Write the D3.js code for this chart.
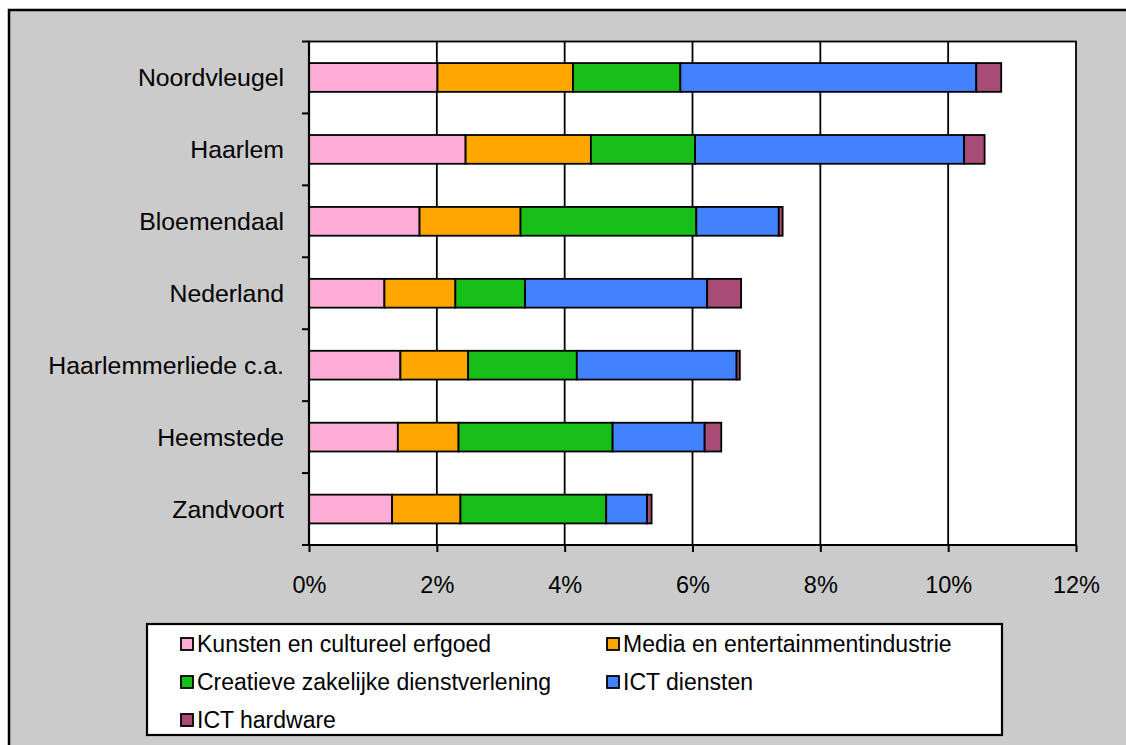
<!DOCTYPE html>
<html>
<head>
<meta charset="utf-8">
<script src="https://cdn.jsdelivr.net/npm/d3@7"></script>
<style>
  html, body { margin: 0; padding: 0; background: #ffffff; }
  svg { display: block; font-family: "Liberation Sans", Arial, sans-serif; }
</style>
</head>
<body>
<div id="chart"></div>
<script>
// Categories, top to bottom
const regions = ["Noordvleugel", "Haarlem", "Bloemendaal", "Nederland",
                 "Haarlemmerliede c.a.", "Heemstede", "Zandvoort"];

// Series names (stack order, left to right)
const sectors = ["Kunsten en cultureel erfgoed", "Media en entertainmentindustrie",
                 "Creatieve zakelijke dienstverlening", "ICT diensten", "ICT hardware"];

// Share of employment per sector (%), same order as regions
const kunsten   = [2.01, 2.45, 1.73, 1.18, 1.43, 1.39, 1.30];
const media     = [2.12, 1.96, 1.58, 1.11, 1.06, 0.95, 1.07];
const creatief  = [1.68, 1.63, 2.75, 1.09, 1.70, 2.41, 2.28];
const ictDienst = [4.63, 4.21, 1.29, 2.85, 2.50, 1.44, 0.64];
const ictHard   = [0.39, 0.32, 0.06, 0.53, 0.05, 0.26, 0.07];

const xTicks = [0, 2, 4, 6, 8, 10, 12];

const colors = ["#ffadd6", "#ffa600", "#19bf19", "#4282ff", "#a84b77"];

const width = 1126, height = 745;
const plot = { left: 309, right: 1076, top: 41.5, bottom: 545 };

const svg = d3.select("#chart").append("svg")
    .attr("width", width)
    .attr("height", height);

// Chart area (grey, with border running off the picture)
svg.append("rect")
    .attr("x", 9).attr("y", 10)
    .attr("width", 1300).attr("height", 900)
    .attr("fill", "#cbcbcb")
    .attr("stroke", "#000").attr("stroke-width", 2.5);

// Build the table for stacking
const table = regions.map((r, i) => ({
    region: r,
    [sectors[0]]: kunsten[i],
    [sectors[1]]: media[i],
    [sectors[2]]: creatief[i],
    [sectors[3]]: ictDienst[i],
    [sectors[4]]: ictHard[i]
}));
const stacked = d3.stack().keys(sectors)(table);

const x = d3.scaleLinear()
    .domain([0, 12])
    .range([plot.left, plot.right]);

const y = d3.scaleBand()
    .domain(regions)
    .range([plot.top, plot.bottom])
    .paddingInner(0.6)
    .paddingOuter(0.3);

// Plot area
svg.append("rect")
    .attr("x", plot.left).attr("y", plot.top)
    .attr("width", plot.right - plot.left)
    .attr("height", plot.bottom - plot.top)
    .attr("fill", "#fff")
    .attr("stroke", "#000").attr("stroke-width", 1.8);

// Vertical gridlines
svg.append("g")
    .selectAll("line")
    .data(xTicks.slice(1, -1))
    .enter().append("line")
    .attr("x1", d => x(d)).attr("x2", d => x(d))
    .attr("y1", plot.top).attr("y2", plot.bottom)
    .attr("stroke", "#000").attr("stroke-width", 1.8);

// Bars
svg.append("g")
    .selectAll("g")
    .data(stacked)
    .enter().append("g")
    .attr("fill", (d, i) => colors[i])
    .selectAll("rect")
    .data(d => d)
    .enter().append("rect")
    .attr("x", d => x(d[0]))
    .attr("y", d => y(d.data.region))
    .attr("width", d => x(d[1]) - x(d[0]))
    .attr("height", y.bandwidth())
    .attr("stroke", "#000")
    .attr("stroke-width", 1.8);

// X axis
const xAxis = d3.axisBottom(x)
    .tickValues(xTicks)
    .tickSize(7)
    .tickPadding(24)
    .tickFormat(d => d + "%");

const gx = svg.append("g")
    .attr("transform", `translate(0,${plot.bottom})`)
    .call(xAxis);
gx.select(".domain").remove();
gx.selectAll(".tick line").attr("stroke", "#000").attr("stroke-width", 2);
gx.selectAll(".tick text")
    .attr("fill", "#000")
    .style("font-size", "23.5px");
gx.append("line")
    .attr("x1", plot.left - 7).attr("x2", plot.right)
    .attr("y1", 0).attr("y2", 0)
    .attr("stroke", "#000").attr("stroke-width", 2.2);

// Y axis: ticks sit between categories
const boundaries = regions.map(r => y(r) - y.step() * 0.3).concat([plot.bottom]);
svg.append("g")
    .selectAll("line")
    .data(boundaries)
    .enter().append("line")
    .attr("x1", plot.left - 7).attr("x2", plot.left)
    .attr("y1", d => d).attr("y2", d => d)
    .attr("stroke", "#000").attr("stroke-width", 2);
svg.append("line")
    .attr("x1", plot.left).attr("x2", plot.left)
    .attr("y1", plot.top).attr("y2", plot.bottom)
    .attr("stroke", "#000").attr("stroke-width", 2.2);

// Category labels
svg.append("g")
    .selectAll("text")
    .data(regions)
    .enter().append("text")
    .attr("x", 284)
    .attr("y", d => y(d) + y.bandwidth() / 2)
    .attr("dy", "0.36em")
    .attr("text-anchor", "end")
    .style("font-size", "24.8px")
    .text(d => d);

// Legend
const legend = svg.append("g");
legend.append("rect")
    .attr("x", 147).attr("y", 624)
    .attr("width", 855).attr("height", 111)
    .attr("fill", "#fff")
    .attr("stroke", "#000").attr("stroke-width", 2.2);

const items = legend.selectAll("g.item")
    .data(sectors)
    .enter().append("g")
    .attr("class", "item")
    .attr("transform", (d, i) =>
        `translate(${i % 2 === 0 ? 181 : 607},${644 + Math.floor(i / 2) * 38})`);

items.append("rect")
    .attr("x", 0).attr("y", -6)
    .attr("width", 12).attr("height", 12)
    .attr("fill", (d, i) => colors[i])
    .attr("stroke", "#000").attr("stroke-width", 1.8);

items.append("text")
    .attr("x", 16)
    .attr("y", 0)
    .attr("dy", "0.36em")
    .style("font-size", "23px")
    .text(d => d);
</script>
</body>
</html>
